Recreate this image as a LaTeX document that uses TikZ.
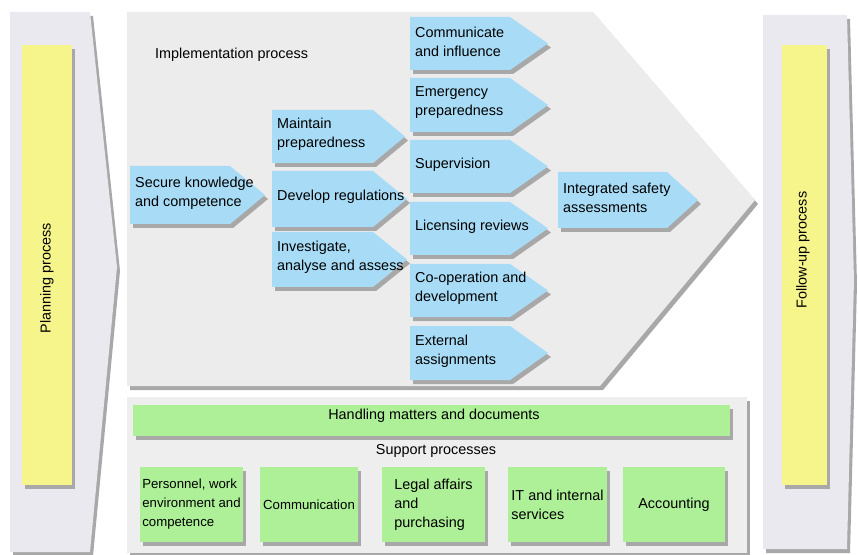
\documentclass[tikz,border=0pt]{standalone}
\usepackage{fontspec}
\setmainfont{Liberation Sans}
\usetikzlibrary{calc}
\definecolor{implbg}{RGB}{236,236,236}
\definecolor{sidebg}{RGB}{233,233,239}
\definecolor{suppbg}{RGB}{238,238,238}
\definecolor{shadc}{RGB}{168,168,168}
\definecolor{bluef}{RGB}{168,220,246}
\definecolor{greenf}{RGB}{173,240,152}
\definecolor{yellowf}{RGB}{245,245,140}
\tikzset{
  txt/.style={font=\fontsize{14.4bp}{19bp}\selectfont, inner sep=0pt, align=left},
  smalltxt/.style={font=\fontsize{13.2bp}{19bp}\selectfont},
  shad/.style={fill=shadc, shift={(3,4)}},
}
\newcommand\barr[7]{%
  \fill[shad] (#2,#3) -- (#4,#3) -- (#5,{(#3+#6)/2}) -- (#4,#6) -- (#2,#6) -- cycle;
  \fill[bluef] (#2,#3) -- (#4,#3) -- (#5,{(#3+#6)/2}) -- (#4,#6) -- (#2,#6) -- cycle;
  \node[txt, anchor=west] (#1) at ({#2+5},{(#3+#6)/2-2}) {#7};
}
\newcommand\gbox[7]{% name, x1,y1,x2,y2, style, text
  \fill[shad] (#2,#3) rectangle (#4,#5);
  \fill[greenf] (#2,#3) rectangle (#4,#5);
  \node[txt,#6] (#1) at ({(#2+#4)/2},{(#3+#5)/2}) {#7};
}
\begin{document}
\begin{tikzpicture}[x=1bp,y=-1bp]
\useasboundingbox (0,0) rectangle (858,555);
\fill[white] (0,0) rectangle (858,555);
% planning
\fill[shad] (10,12) -- (90,12) -- (117,267) -- (90,552) -- (10,552) -- cycle;
\fill[sidebg] (10,12) -- (90,12) -- (117,267) -- (90,552) -- (10,552) -- cycle;
\fill[shad] (22,45) rectangle (72,485);
\fill[yellowf] (22,45) rectangle (72,485);
\node[txt, rotate=90] (plan) at (47,278) {Planning process};
% follow-up
\fill[shad] (763,15) -- (847,15) -- (854,280) -- (847,549) -- (763,549) -- cycle;
\fill[sidebg] (763,15) -- (847,15) -- (854,280) -- (847,549) -- (763,549) -- cycle;
\fill[shad] (782,45) rectangle (827,485);
\fill[yellowf] (782,45) rectangle (827,485);
\node[txt, rotate=90] (follow) at (803,250) {Follow-up process};
% implementation chevron
\fill[shad] (127,12) -- (593,12) -- (755,200) -- (600,386) -- (127,386) -- cycle;
\fill[implbg] (127,12) -- (593,12) -- (755,200) -- (600,386) -- (127,386) -- cycle;
\node[txt, anchor=west] (impl) at (155,55) {Implementation process};
% column 1
\barr{secure}{130}{166}{230}{265}{224}{Secure knowledge\\and competence}
% column 2
\barr{maintain}{272}{110}{373}{405}{163}{Maintain\\preparedness}
\barr{develop}{272}{171}{373}{407}{227}{Develop regulations}
\barr{investig}{272}{232}{373}{407}{287}{Investigate,\\analyse and assess}
% column 3
\barr{commun}{410}{17}{510}{548}{70}{Communicate\\and influence}
\barr{emerg}{410}{78}{510}{548}{132}{Emergency\\preparedness}
\barr{superv}{410}{140}{510}{548}{193}{Supervision}
\barr{licens}{410}{202}{510}{548}{255}{Licensing reviews}
\barr{coop}{410}{264}{510}{548}{317}{Co-operation and\\development}
\barr{extern}{410}{326}{510}{548}{380}{External\\assignments}
% column 4
\barr{integr}{558}{172}{667}{698}{228}{Integrated safety\\assessments}
% support
\fill[shad] (127,397) rectangle (747,553);
\fill[suppbg] (127,397) rectangle (747,553);
\fill[shad] (133,405) rectangle (730,436);
\fill[greenf] (133,405) rectangle (730,436);
\node[txt] (handling) at (434,416) {Handling matters and documents};
\node[txt] (support) at (436,451) {Support processes};
\gbox{personnel}{140}{467}{243}{542}{smalltxt}{Personnel, work\\environment and\\competence}
\gbox{communic}{260}{467}{358}{542}{smalltxt}{Communication}
\gbox{legal}{382}{467}{485}{542}{}{Legal affairs\\and\\purchasing}
\gbox{it}{508}{467}{607}{542}{}{IT and internal\\services}
\gbox{account}{623}{467}{725}{542}{}{Accounting}
\end{tikzpicture}
\end{document}
